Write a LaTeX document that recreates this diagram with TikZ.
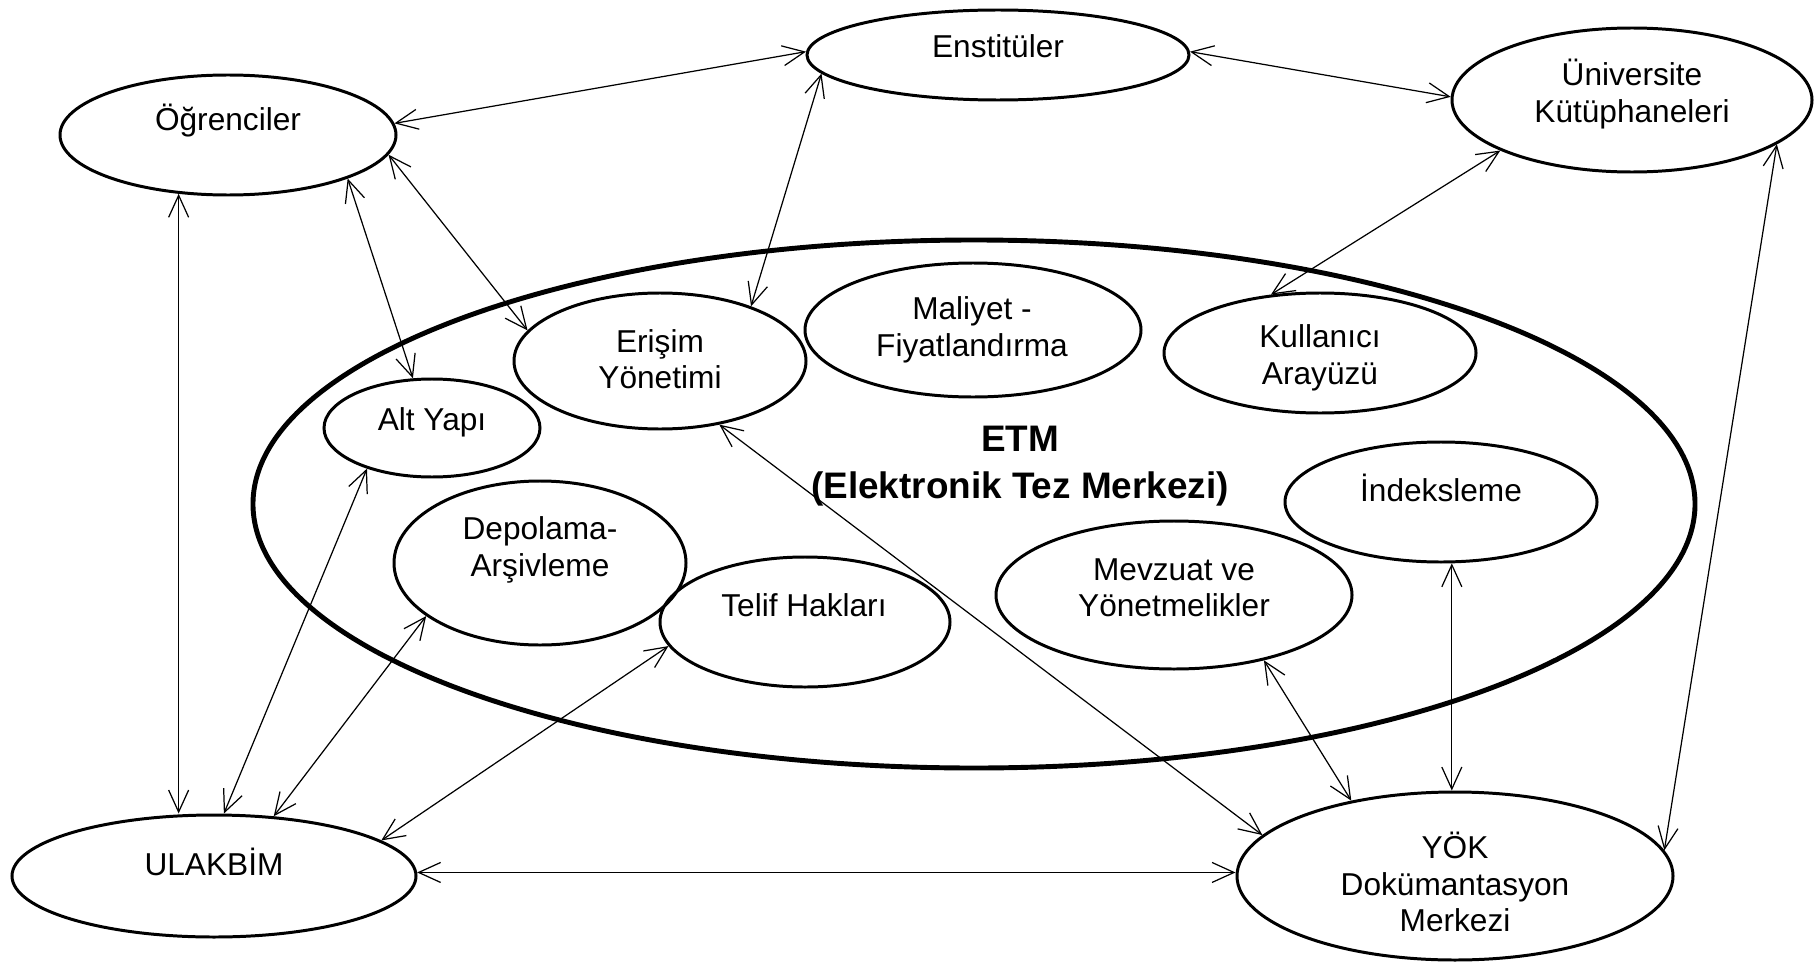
\documentclass[tikz,border=0pt]{standalone}
\usepackage{fontspec}
\setmainfont{Liberation Sans}
\usepackage{tikz}
\usetikzlibrary{arrows.meta,shapes.geometric}

\begin{document}
\begin{tikzpicture}[x=0.2mm, y=-0.2mm,
		Oval/.style={draw, ellipse, line width=1.7pt, inner sep=0pt},
		BigOval/.style={draw, ellipse, line width=2.8pt, inner sep=0pt},
		Label/.style={font=\fontsize{18}{20.7}\selectfont, align=center, inner sep=0pt},
		Link/.style={{Straight Barb[length=4.4mm, width=4mm]}-{Straight Barb[length=4.4mm, width=4mm]}, line width=0.7pt}]
		\useasboundingbox (0,0) rectangle (1815,964);
		% ETM
		\node [BigOval, minimum width=288.4mm, minimum height=105.6mm] (etm) at (974,504) {};
		\node [font=\fontsize{21}{26.6}\selectfont\bfseries, align=center, inner sep=0pt] (etmText) at (1020,466) {ETM\\(Elektronik Tez Merkezi)};
		% inside
		\node [Oval, minimum width=58.4mm, minimum height=27.2mm] (erisim) at (660,361) {};
		\node [Label] (erisimText) at (660,359) {Erişim\\Yönetimi};
		\node [Oval, minimum width=43.2mm, minimum height=19.6mm] (altyapi) at (432,428) {};
		\node [Label] (altyapiText) at (432,422) {Alt Yapı};
		\node [Oval, minimum width=67.2mm, minimum height=26.8mm] (maliyet) at (973,330) {};
		\node [Label] (maliyetText) at (972,330) {Maliyet -\\Fiyatlandırma};
		\node [Oval, minimum width=62.4mm, minimum height=24mm] (kullanici) at (1320,353) {};
		\node [Label] (kullaniciText) at (1320,358) {Kullanıcı\\Arayüzü};
		\node [Oval, minimum width=58.4mm, minimum height=32.8mm] (depolama) at (540,563) {};
		\node [Label] (depolamaText) at (540,550) {Depolama-\\Arşivleme};
		\node [Oval, minimum width=58mm, minimum height=26mm] (telif) at (805,622) {};
		\node [Label] (telifText) at (804,605) {Telif Hakları};
		\node [Oval, minimum width=71.2mm, minimum height=29.6mm] (mevzuat) at (1174,595) {};
		\node [Label] (mevzuatText) at (1174,588) {Mevzuat ve\\Yönetmelikler};
		\node [Oval, minimum width=62.4mm, minimum height=24mm] (indeks) at (1441,502) {};
		\node [Label] (indeksText) at (1441,488) {İndeksleme};
		% outside
		\node [Oval, minimum width=67.2mm, minimum height=24mm] (ogr) at (228,135) {};
		\node [Label] (ogrText) at (228,121) {Öğrenciler};
		\node [Oval, minimum width=76.4mm, minimum height=18mm] (enst) at (998,55) {};
		\node [Label] (enstText) at (998,46) {Enstitüler};
		\node [Oval, minimum width=72mm, minimum height=28.8mm] (uni) at (1632,100) {};
		\node [Label] (uniText) at (1632,94) {Üniversite\\Kütüphaneleri};
		\node [Oval, minimum width=80.8mm, minimum height=24.4mm] (ulakbim) at (214,876) {};
		\node [Label] (ulakbimText) at (214,862) {ULAKBİM};
		\node [Oval, minimum width=87.2mm, minimum height=33.6mm] (yok) at (1455,876) {};
		\node [Label] (yokText) at (1455,882) {YÖK\\Dokümantasyon\\Merkezi};
		% links
		\draw [Link] (ogr.4.1) -- (enst.179.1);
		\draw [Link] (enst.1.5) -- (uni.179.4);
		\draw [Link] (ogr.-20) -- (altyapi.111);
		\draw [Link] (ogr.-7.1) -- (erisim.167.1);
		\draw [Link] (enst.-174.1) -- (erisim.31);
		\draw [Link] (uni.-159.3) -- (kullanici.130);
		\draw [Link] (ogr.-130.2) -- (ogr.-130.2 |- ulakbim.north);
		\draw [Link] (ulakbim.81.9) -- (altyapi.-148.6);
		\draw [Link] (ulakbim.45.5) -- (depolama.-155.1);
		\draw [Link] (ulakbim.12.6) -- (telif.-170.4);
		\draw [Link] (ulakbim.1.7) -- (ulakbim.1.7 -| yok.west);
		\draw [Link] (erisim.-47.4) -- (yok.168.7);
		\draw [Link] (mevzuat.-36.8) -- (yok.144);
		\draw [Link] (indeks.-80.5) -- (indeks.-80.5 |- yok.north);
		\draw [Link] (uni.-17.2) -- (yok.7.8);
	\end{tikzpicture}
\end{document}
